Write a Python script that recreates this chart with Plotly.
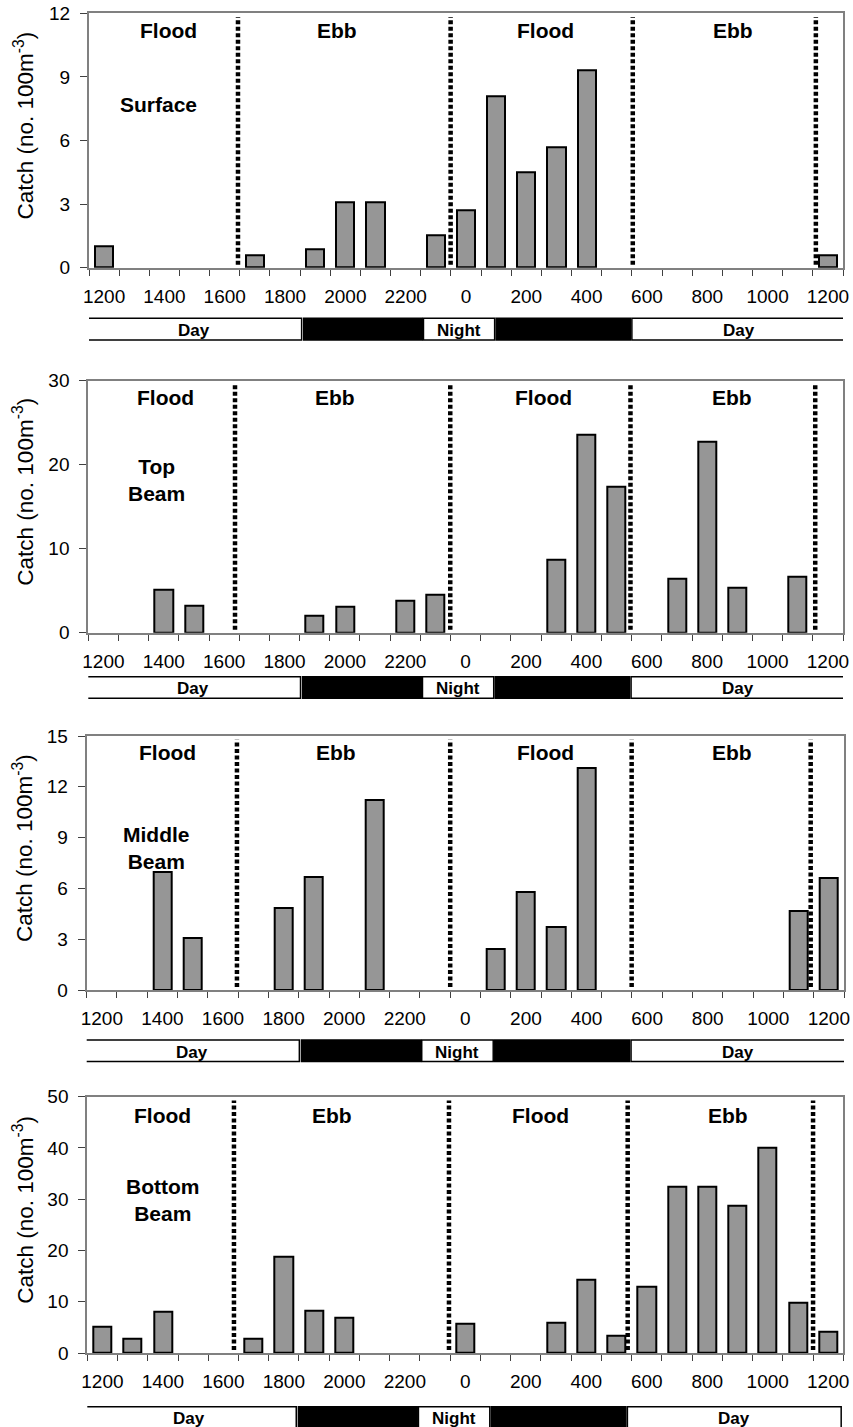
import plotly.graph_objects as go

# ---------------- data ----------------
hours = ["1200", "1300", "1400", "1500", "1600", "1700", "1800", "1900", "2000", "2100",
         "2200", "2300", "0", "100", "200", "300", "400", "500", "600", "700", "800",
         "900", "1000", "1100", "1200"]
tick_labels = ["1200", "1400", "1600", "1800", "2000", "2200", "0", "200", "400",
               "600", "800", "1000", "1200"]

surface = [1.0, 0, 0, 0, 0, 0.6, 0, 0.88, 3.07, 3.08, 0, 1.54, 2.69, 8.08, 4.51,
           5.69, 9.3, 0, 0, 0, 0, 0, 0, 0, 0.58]
top_beam = [0, 0, 5.17, 3.18, 0, 0, 0, 1.99, 3.06, 0, 3.81, 4.57, 0, 0, 0, 8.74,
            23.6, 17.36, 0, 6.44, 22.77, 5.36, 0, 6.67, 0]
middle_beam = [0, 0, 6.95, 3.06, 0, 0, 4.87, 6.67, 0, 11.23, 0, 0, 0, 2.45, 5.78,
               3.75, 13.14, 0, 0, 0, 0, 0, 0, 4.68, 6.61]
bottom_beam = [5.19, 2.73, 7.99, 0, 0, 2.86, 18.83, 8.25, 6.88, 0, 0, 0, 5.71, 0, 0,
               5.84, 14.35, 3.31, 12.92, 32.47, 32.4, 28.77, 40.13, 9.81, 4.16]

panel_names = ["Surface", "Top<br>Beam", "Middle<br>Beam", "Bottom<br>Beam"]
series = [surface, top_beam, middle_beam, bottom_beam]
y_max = [12, 30, 15, 50]
y_step = [3, 10, 3, 10]

# tide change times (hours after 1200, on the category scale)
tide_changes = [
    [4.44, 11.49, 17.53, 23.60],
    [4.36, 11.49, 17.46, 23.58],
    [4.46, 11.50, 17.49, 23.40],
    [4.35, 11.46, 17.37, 23.50],
]
tide_names = ["Flood", "Ebb", "Flood", "Ebb"]

# light periods (hours after 1200 on the category scale)
light_periods = [("day", -0.56, 6.55), ("dark", 6.62, 10.55), ("night", 10.59, 12.95),
                 ("dark", 13.0, 17.45), ("day", 17.5, 24.57)]

# ---------------- layout geometry (pixels) ----------------
W, H = 853, 1427
panels_px = [  # left, right, top, bottom
    (89.0, 843.0, 13.3, 267.7),
    (88.3, 843.0, 380.7, 632.7),
    (86.7, 844.0, 736.0, 990.0),
    (87.3, 843.3, 1096.7, 1353.0),
]
daybar_px = [(318.3, 340.0), (676.7, 698.3), (1040.0, 1061.5), (1406.7, 1428.3)]
daybar_shift = [0.0, -0.02, -0.03, -0.14]
tide_label_pos = [
    [2.12, 7.72, 14.65, 20.85],
    [2.07, 7.67, 14.58, 20.82],
    [2.18, 7.73, 14.64, 20.80],
    [1.99, 7.59, 14.50, 20.69],
]
tide_label_y = [0.934, 0.935, 0.935, 0.928]
name_pos = [(1.79, 0.643), (1.77, 0.604), (1.82, 0.559), (2.00, 0.597)]

FONT = "Liberation Sans, Arial, sans-serif"
BAR_FILL = "#969696"
BORDER = "#808080"

fig = go.Figure()
layout = dict(width=W, height=H, margin=dict(l=0, r=0, t=0, b=0, autoexpand=False),
              autosize=False,
              paper_bgcolor="white", plot_bgcolor="white", showlegend=False,
              font=dict(family=FONT, color="black"), bargap=0)
shapes = []
annotations = []

for p in range(4):
    L, R, T, B = panels_px[p]
    sfx = "" if p == 0 else str(p + 1)
    xa, ya = "x" + sfx, "y" + sfx
    vals = [v if v else None for v in series[p]]
    fig.add_trace(go.Bar(x=list(range(len(hours))), y=vals, xaxis=xa, yaxis=ya,
                         width=0.6,
                         marker=dict(color=BAR_FILL, line=dict(color="black", width=2)),
                         hovertext=hours))
    layout["xaxis" + sfx] = dict(
        domain=[L / W, R / W], anchor=ya, range=[-0.5, len(hours) - 0.5],
        automargin=False,
        tickmode="array", tickvals=list(range(0, len(hours), 2)), ticktext=tick_labels,
        ticks="", showline=True, linecolor=BORDER, linewidth=2, mirror=True,
        showgrid=False, zeroline=False, tickfont=dict(size=19, family=FONT),
        ticklabelstandoff=10,
        minor=dict(ticks="outside", tickmode="linear", tick0=-0.5, dtick=1,
                   ticklen=6, tickcolor="#404040", tickwidth=1, showgrid=False))
    layout["yaxis" + sfx] = dict(
        domain=[1 - B / H, 1 - T / H], anchor=xa, range=[0, y_max[p]],
        automargin=False,
        tickmode="linear", tick0=0, dtick=y_step[p], ticks="outside", ticklen=7,
        tickcolor="#404040", showline=True, linecolor=BORDER, linewidth=2,
        mirror=True, showgrid=False, zeroline=False,
        tickfont=dict(size=19, family=FONT), ticklabelstandoff=6)

    # tide change dotted lines
    for xv in tide_changes[p]:
        shapes.append(dict(type="line", xref=xa, yref=ya + " domain", x0=xv, x1=xv,
                           y0=0.012, y1=0.985,
                           line=dict(color="black", width=4.5, dash="4px,2.5px")))
    # tide labels
    for xv, name in zip(tide_label_pos[p], tide_names):
        annotations.append(dict(text="<b>%s</b>" % name, xref=xa, yref=ya + " domain",
                                x=xv, y=tide_label_y[p], xanchor="center",
                                yanchor="middle", showarrow=False,
                                font=dict(size=21, family=FONT)))
    # panel name
    nx, ny = name_pos[p]
    annotations.append(dict(text="<b>%s</b>" % panel_names[p], xref=xa,
                            yref=ya + " domain", x=nx, y=ny, xanchor="center",
                            yanchor="middle", showarrow=False,
                            font=dict(size=21, family=FONT)))
    # y title
    annotations.append(dict(text="Catch (no. 100m<sup>-3</sup>)", xref="paper",
                            yref="paper", x=23 / W, y=1 - ((T + B) / 2 - 15) / H,
                            xanchor="center", yanchor="middle",
                            textangle=-90, showarrow=False,
                            font=dict(size=22.5, family=FONT)))
    # day / night bar
    bt, bb = daybar_px[p]
    for kind, x0, x1 in light_periods:
        x0s, x1s = x0 + daybar_shift[p], x1 + daybar_shift[p]
        fill = "black" if kind == "dark" else "white"
        shapes.append(dict(type="rect", xref=xa, yref="paper", x0=x0s, x1=x1s,
                           y0=1 - bb / H, y1=1 - bt / H, fillcolor=fill,
                           line=dict(color="black", width=1.5)))
        if kind != "dark":
            annotations.append(dict(text="<b>%s</b>" % ("Day" if kind == "day" else "Night"),
                                    xref=xa, yref="paper", x=(x0s + x1s) / 2,
                                    y=1 - (bt + 12.0) / H, xanchor="center",
                                    yanchor="middle",
                                    showarrow=False, font=dict(size=17, family=FONT)))

layout["shapes"] = shapes
layout["annotations"] = annotations
fig.update_layout(**layout)
fig.write_html("out.html", config={"displayModeBar": False},
               post_script="document.body.style.margin='0';"
                           "document.body.style.overflow='hidden';")
